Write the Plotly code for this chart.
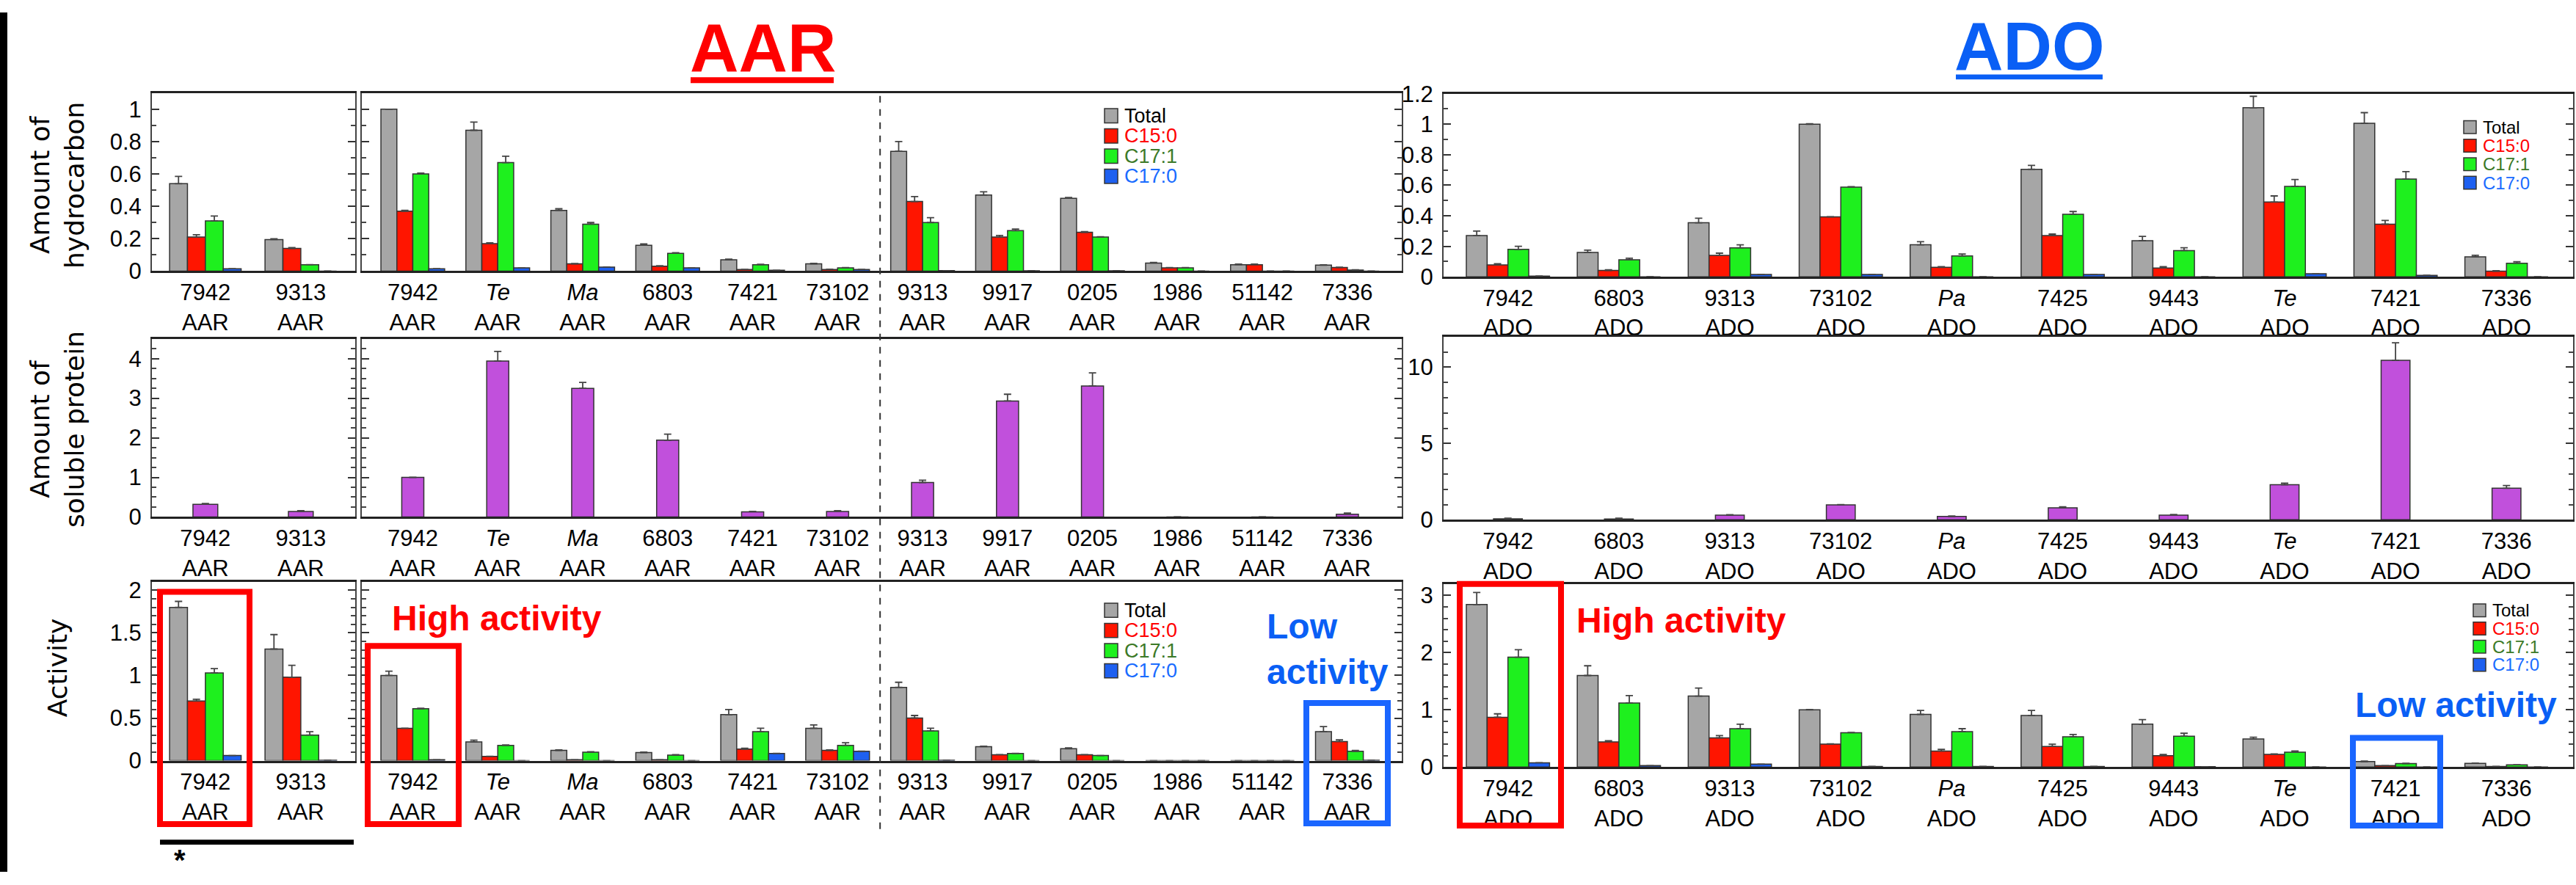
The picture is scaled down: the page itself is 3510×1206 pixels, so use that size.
import plotly.graph_objects as go

W, H = 3510, 1206

# ---------------- data ----------------
AAR_A_STRAINS = ["7942", "9313"]
AAR_B_STRAINS = ["7942", "Te", "Ma", "6803", "7421", "73102",
                 "9313", "9917", "0205", "1986", "51142", "7336"]
ADO_STRAINS = ["7942", "6803", "9313", "73102", "Pa", "7425", "9443", "Te", "7421", "7336"]
ITALIC = {"Te", "Ma", "Pa"}

SERIES = ["Total", "C15:0", "C17:1", "C17:0"]

# Amount of hydrocarbon
HC_AAR_A = {
    "Total": [0.54, 0.195], "C15:0": [0.21, 0.14], "C17:1": [0.31, 0.04], "C17:0": [0.015, 0.0]}
HC_AAR_A_ERR = {
    "Total": [0.045, 0.005], "C15:0": [0.015, 0.005], "C17:1": [0.03, 0.0], "C17:0": [0.0, 0.0]}
HC_AAR_B = {
    "Total": [1.0, 0.87, 0.375, 0.16, 0.07, 0.045, 0.74, 0.47, 0.45, 0.05, 0.04, 0.037],
    "C15:0": [0.37, 0.17, 0.045, 0.03, 0.01, 0.01, 0.43, 0.21, 0.24, 0.02, 0.04, 0.022],
    "C17:1": [0.60, 0.67, 0.29, 0.11, 0.04, 0.02, 0.30, 0.25, 0.21, 0.02, 0.0, 0.007],
    "C17:0": [0.015, 0.02, 0.025, 0.02, 0.005, 0.01, 0.003, 0.002, 0.002, 0.0, 0.0, 0.0]}
HC_AAR_B_ERR = {
    "Total": [0.0, 0.05, 0.01, 0.008, 0.004, 0.003, 0.06, 0.02, 0.005, 0.003, 0.003, 0.002],
    "C15:0": [0.005, 0.005, 0.002, 0.003, 0.001, 0.002, 0.03, 0.01, 0.004, 0.002, 0.003, 0.002],
    "C17:1": [0.005, 0.04, 0.01, 0.004, 0.002, 0.002, 0.03, 0.01, 0.002, 0.002, 0.0, 0.001],
    "C17:0": [0.0] * 12}
HC_ADO = {
    "Total": [0.27, 0.16, 0.354, 1.0, 0.21, 0.705, 0.237, 1.108, 1.006, 0.131],
    "C15:0": [0.078, 0.042, 0.14, 0.393, 0.062, 0.27, 0.058, 0.49, 0.345, 0.037],
    "C17:1": [0.18, 0.112, 0.19, 0.588, 0.137, 0.41, 0.172, 0.593, 0.641, 0.089],
    "C17:0": [0.005, 0.0, 0.015, 0.015, 0.0, 0.015, 0.0, 0.02, 0.01, 0.0]}
HC_ADO_ERR = {
    "Total": [0.03, 0.015, 0.03, 0.003, 0.02, 0.025, 0.028, 0.075, 0.07, 0.01],
    "C15:0": [0.008, 0.004, 0.015, 0.0, 0.004, 0.01, 0.008, 0.04, 0.025, 0.003],
    "C17:1": [0.02, 0.01, 0.02, 0.003, 0.013, 0.018, 0.018, 0.045, 0.048, 0.01],
    "C17:0": [0.0] * 10}

# Amount of soluble protein
PROT_AAR_A = [0.32, 0.14]
PROT_AAR_A_ERR = [0.02, 0.02]
PROT_AAR_B = [1.0, 3.94, 3.25, 1.94, 0.13, 0.14, 0.87, 2.93, 3.31, 0.0, 0.0, 0.07]
PROT_AAR_B_ERR = [0.0, 0.24, 0.15, 0.15, 0.01, 0.02, 0.06, 0.17, 0.33, 0.0, 0.0, 0.03]
PROT_ADO = [0.06, 0.05, 0.3, 0.98, 0.22, 0.78, 0.31, 2.3, 10.45, 2.07]
PROT_ADO_ERR = [0.04, 0.05, 0.03, 0.02, 0.03, 0.07, 0.03, 0.1, 1.15, 0.18]

# Activity
ACT_AAR_A = {
    "Total": [1.80, 1.31], "C15:0": [0.70, 0.98], "C17:1": [1.03, 0.30], "C17:0": [0.06, 0.005]}
ACT_AAR_A_ERR = {
    "Total": [0.07, 0.17], "C15:0": [0.02, 0.14], "C17:1": [0.05, 0.04], "C17:0": [0.0, 0.0]}
ACT_AAR_B = {
    "Total": [1.0, 0.22, 0.12, 0.095, 0.54, 0.38, 0.86, 0.165, 0.14, 0.0, 0.0, 0.34],
    "C15:0": [0.38, 0.05, 0.01, 0.01, 0.135, 0.12, 0.50, 0.07, 0.07, 0.0, 0.0, 0.225],
    "C17:1": [0.61, 0.18, 0.10, 0.065, 0.34, 0.18, 0.35, 0.085, 0.06, 0.0, 0.0, 0.11],
    "C17:0": [0.01, 0.0, 0.0, 0.0, 0.085, 0.11, 0.005, 0.0, 0.0, 0.0, 0.0, 0.005]}
ACT_AAR_B_ERR = {
    "Total": [0.05, 0.02, 0.005, 0.005, 0.06, 0.04, 0.06, 0.005, 0.01, 0.0, 0.0, 0.06],
    "C15:0": [0.0, 0.0, 0.0, 0.0, 0.01, 0.005, 0.03, 0.0, 0.0, 0.0, 0.0, 0.02],
    "C17:1": [0.005, 0.005, 0.005, 0.005, 0.04, 0.03, 0.03, 0.0, 0.0, 0.0, 0.0, 0.01],
    "C17:0": [0.0] * 12}
ACT_ADO = {
    "Total": [2.84, 1.60, 1.24, 1.0, 0.92, 0.90, 0.75, 0.49, 0.095, 0.065],
    "C15:0": [0.87, 0.44, 0.51, 0.40, 0.28, 0.36, 0.20, 0.22, 0.025, 0.01],
    "C17:1": [1.92, 1.12, 0.67, 0.60, 0.62, 0.53, 0.54, 0.26, 0.06, 0.04],
    "C17:0": [0.075, 0.025, 0.05, 0.01, 0.01, 0.01, 0.005, 0.0, 0.0, 0.0]}
ACT_ADO_ERR = {
    "Total": [0.21, 0.17, 0.14, 0.005, 0.07, 0.09, 0.08, 0.03, 0.01, 0.005],
    "C15:0": [0.06, 0.02, 0.04, 0.005, 0.03, 0.04, 0.02, 0.01, 0.0, 0.0],
    "C17:1": [0.13, 0.13, 0.08, 0.005, 0.05, 0.04, 0.05, 0.02, 0.005, 0.0],
    "C17:0": [0.0] * 10}

# ---------------- styles ----------------
FILL = {"Total": "#a6a6a6", "C15:0": "#ff1500", "C17:1": "#1ef01e", "C17:0": "#1e60f0"}
LEGEND_TXT = {"Total": "#000000", "C15:0": "#ff0000", "C17:1": "#3c7a28", "C17:0": "#1a6cff"}
PROT_FILL = "#c150dc"
TICK_FONT = dict(family="Liberation Sans, Arial, sans-serif", size=31, color="#000")
RED = "#ff0000"
BLUE = "#0a5ff5"


def px_x(p):
    return p / W


def px_y(p):
    return 1 - p / H


def lab(s, enz):
    name = f"<i>{s}</i>" if s in ITALIC else s
    return f"{name}<br>{enz}"


fig = go.Figure()

PANELS = {
    1: ((207, 484), (113, 363), AAR_A_STRAINS, "AAR", [-0.56, 1.57], [0, 1.1], 0.2, 0.1, True),
    2: ((493, 1910), (113, 363), AAR_B_STRAINS, "AAR", [-0.6, 11.64], [0, 1.1], 0.2, 0.1, False),
    3: ((1967, 3506), (114, 371), ADO_STRAINS, "ADO", [-0.58, 9.6], [0, 1.2], 0.2, 0.1, True),
    4: ((207, 484), (458, 708), AAR_A_STRAINS, "AAR", [-0.56, 1.57], [0, 4.5], 1, 0.25, True),
    5: ((493, 1910), (458, 708), AAR_B_STRAINS, "AAR", [-0.6, 11.64], [0, 4.5], 1, 0.25, False),
    6: ((1967, 3506), (455, 712), ADO_STRAINS, "ADO", [-0.58, 9.6], [0, 12], 5, 1, True),
    7: ((207, 484), (799, 1050), AAR_A_STRAINS, "AAR", [-0.56, 1.57], [0, 2.1], 0.5, 0.1, True),
    8: ((493, 1910), (799, 1050), AAR_B_STRAINS, "AAR", [-0.6, 11.64], [0, 2.1], 0.5, 0.1, False),
    9: ((1967, 3506), (802, 1059), ADO_STRAINS, "ADO", [-0.58, 9.6], [0, 3.2], 1, 0.2, True),
}

layout_axes = {}
for i, (xp, yp, cats, enz, xr, yr, dt, mdt, showy) in PANELS.items():
    xs = "xaxis" if i == 1 else f"xaxis{i}"
    ys = "yaxis" if i == 1 else f"yaxis{i}"
    layout_axes[xs] = dict(
        domain=[px_x(xp[0]), px_x(xp[1])], anchor="y" if i == 1 else f"y{i}",
        type="category", categoryorder="array",
        categoryarray=[lab(s, enz) for s in cats], range=xr,
        showline=True, linecolor="#222", linewidth=2.5, mirror=True,
        ticks="", showgrid=False, zeroline=False, tickfont=TICK_FONT,
        ticklabelstandoff=0, fixedrange=True)
    layout_axes[ys] = dict(
        domain=[px_y(yp[1]), px_y(yp[0])], anchor="x" if i == 1 else f"x{i}",
        range=yr, dtick=dt, tick0=0, showticklabels=showy,
        showline=True, linecolor="#444", linewidth=2, mirror="allticks",
        ticks="inside", ticklen=10, tickwidth=2, tickcolor="#333",
        minor=dict(dtick=mdt, tick0=0, ticks="inside", ticklen=6, tickwidth=1.5, tickcolor="#444"),
        showgrid=False, zeroline=False, tickfont=TICK_FONT, ticklabelstandoff=6,
        fixedrange=True)


def add_group(i, strains, enz, vals, errs):
    xa = "x" if i == 1 else f"x{i}"
    ya = "y" if i == 1 else f"y{i}"
    for s in SERIES:
        fig.add_trace(go.Bar(
            x=[lab(c, enz) for c in strains], y=vals[s], name=s,
            marker=dict(color=FILL[s], line=dict(color="#333", width=1.5)),
            error_y=dict(type="data", array=errs[s], arrayminus=[0] * len(strains),
                         symmetric=False, color="#444", thickness=1.8, width=5),
            xaxis=xa, yaxis=ya, showlegend=False, offsetgroup=s))


def add_protein(i, strains, enz, vals, errs):
    xa = "x" if i == 1 else f"x{i}"
    ya = "y" if i == 1 else f"y{i}"
    fig.add_trace(go.Bar(
        x=[lab(c, enz) for c in strains], y=vals, width=0.26, name="Soluble protein",
        marker=dict(color=PROT_FILL, line=dict(color="#333", width=1.5)),
        error_y=dict(type="data", array=errs, arrayminus=[0] * len(strains),
                     symmetric=False, color="#444", thickness=1.8, width=5),
        xaxis=xa, yaxis=ya, showlegend=False))


add_group(1, AAR_A_STRAINS, "AAR", HC_AAR_A, HC_AAR_A_ERR)
add_group(2, AAR_B_STRAINS, "AAR", HC_AAR_B, HC_AAR_B_ERR)
add_group(3, ADO_STRAINS, "ADO", HC_ADO, HC_ADO_ERR)
add_protein(4, AAR_A_STRAINS, "AAR", PROT_AAR_A, PROT_AAR_A_ERR)
add_protein(5, AAR_B_STRAINS, "AAR", PROT_AAR_B, PROT_AAR_B_ERR)
add_protein(6, ADO_STRAINS, "ADO", PROT_ADO, PROT_ADO_ERR)
add_group(7, AAR_A_STRAINS, "AAR", ACT_AAR_A, ACT_AAR_A_ERR)
add_group(8, AAR_B_STRAINS, "AAR", ACT_AAR_B, ACT_AAR_B_ERR)
add_group(9, ADO_STRAINS, "ADO", ACT_ADO, ACT_ADO_ERR)

anns = []
shapes = []
TITLE_FONT = "Liberation Sans, Arial, sans-serif"


def ann(text, xp, yp, font, xanchor="center", **kw):
    anns.append(dict(text=text, x=px_x(xp), y=px_y(yp), xref="paper", yref="paper",
                     xanchor=xanchor, yanchor="middle", showarrow=False, font=font, **kw))


def rect(x0, y0, x1, y1, **kw):
    shapes.append(dict(type="rect", xref="paper", yref="paper",
                       x0=px_x(x0), x1=px_x(x1), y0=px_y(y1), y1=px_y(y0), **kw))


# legends (key squares + coloured labels)
def legend_block(x0, y_first, step, box_w, box_h, size):
    for k, s in enumerate(SERIES):
        yc = y_first + k * step
        rect(x0, yc - box_h / 2, x0 + box_w, yc + box_h / 2,
             fillcolor=FILL[s], line=dict(color="#333", width=1.5))
        ann(s, x0 + box_w + 7, yc, dict(family=TITLE_FONT, size=size, color=LEGEND_TXT[s]),
            xanchor="left")


legend_block(1505, 145, 28.3, 18, 20, 27)
legend_block(1505, 839, 28.3, 18, 20, 27)
legend_block(3357, 161, 26, 17, 18, 24)
legend_block(3370, 839, 25.5, 17, 18, 24)

ann("<b>AAR</b>", 1039, 49, dict(family=TITLE_FONT, size=92, color=RED))
ann("<b>ADO</b>", 2765, 47, dict(family=TITLE_FONT, size=92, color=BLUE))

YT_FONT = dict(family="DejaVu Sans, Verdana, sans-serif", size=36, color="#000")
for txt, yc in [("Amount of<br>hydrocarbon", 243), ("Amount of<br>soluble protein", 585),
                ("Activity", 920)]:
    ann(txt, 78, yc, YT_FONT, textangle=-90)

HA_FONT = dict(family=TITLE_FONT, size=48, color=RED)
LA_FONT = dict(family=TITLE_FONT, size=48, color=BLUE)
ann("<b>High activity</b>", 532, 850, HA_FONT, xanchor="left")
ann("<b>High activity</b>", 2146, 853, HA_FONT, xanchor="left")
ann("<b>Low<br>activity</b>", 1724, 893, LA_FONT, xanchor="left", align="left")
ann("<b>Low activity</b>", 3207, 972, LA_FONT, xanchor="left")
ann("<b>*</b>", 245, 1190, dict(family=TITLE_FONT, size=40, color="#000"))

# left black strip
rect(0, 0, 10, H, fillcolor="#000", line=dict(width=0))
# title underlines
rect(941, 91, 1136, 99, fillcolor=RED, line=dict(width=0))
rect(2665, 87, 2865, 94, fillcolor=BLUE, line=dict(width=0))
# highlight boxes
rect(218, 813, 340, 1139, line=dict(color=RED, width=8))
rect(501, 889, 625, 1139, line=dict(color=RED, width=8))
rect(1780, 969, 1891, 1138, line=dict(color="#1a66ff", width=8))
rect(1989, 802, 2127, 1141, line=dict(color=RED, width=8))
rect(3206, 1018, 3325, 1141, line=dict(color="#1a66ff", width=8))
# bar under first panel
rect(218, 1161, 482, 1168, fillcolor="#000", line=dict(width=0))
# dashed separator inside AAR panels (between 6th and 7th strain)
shapes.append(dict(type="line", xref="x2", yref="paper", x0=5.5, x1=5.5,
                   y0=px_y(1146), y1=px_y(113), line=dict(color="#333", width=2, dash="dash")))

fig.update_layout(
    width=W, height=H, margin=dict(l=0, r=0, t=0, b=0),
    paper_bgcolor="white", plot_bgcolor="white",
    barmode="group", bargap=0.25, bargroupgap=0, showlegend=False,
    annotations=anns, shapes=shapes,
    **layout_axes,
)

fig.write_html("out.html", config={"displayModeBar": False},
               post_script="document.body.style.margin='0';document.body.style.overflow='hidden';")
